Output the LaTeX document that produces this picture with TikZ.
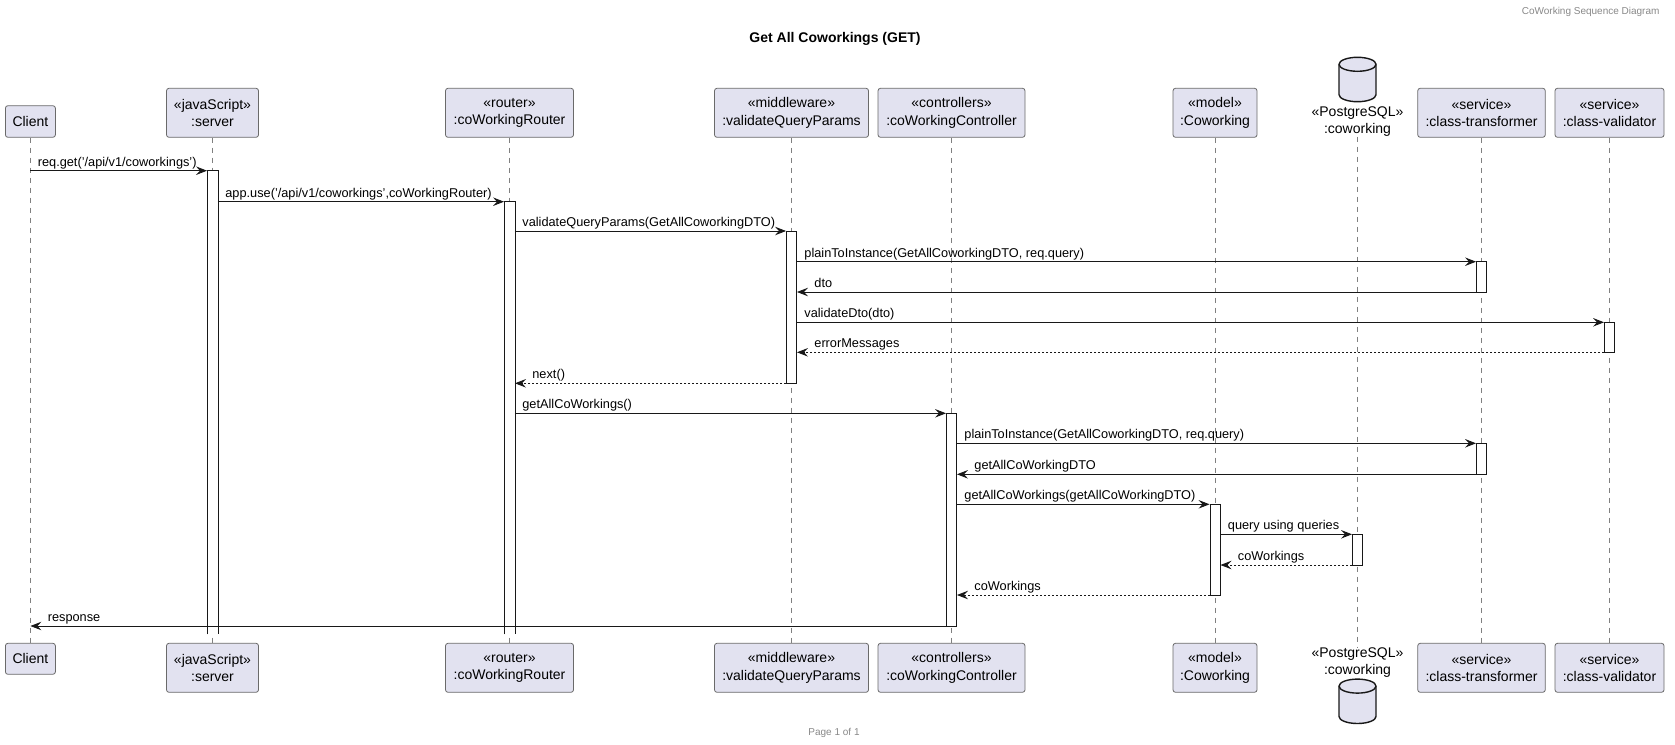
\documentclass[tikz,border=0pt]{standalone}
\usepackage{fontspec}
\setmainfont{Liberation Sans}
\usetikzlibrary{arrows.meta}

\definecolor{partfill}{HTML}{E2E2F0}
\definecolor{ink}{HTML}{181818}
\definecolor{partline}{HTML}{6A6A6A}
\definecolor{faint}{HTML}{888888}

\tikzset{
  part/.style={draw=partline, fill=partfill, rounded corners=2.5pt, line width=0.8pt,
    align=center, inner sep=0pt, font=\fontsize{14}{17.5}\selectfont},
  pgtext/.style={align=center, inner sep=0pt, font=\fontsize{14}{17}\selectfont},
  lifeline/.style={draw=ink!55, line width=0.7pt, dash pattern=on 5pt off 5pt},
  act/.style={draw=ink, fill=white, line width=0.9pt, minimum width=10pt, inner sep=0pt},
  openact/.style={act, draw=none},
  db/.style={draw=ink, fill=partfill, line width=1.4pt},
  msg/.style={draw=ink, line width=0.9pt, -{Stealth[length=11pt,width=8.5pt,inset=4pt]}},
  ret/.style={msg, dash pattern=on 2pt off 2pt},
  lbl/.style={font=\fontsize{12.75}{15}\selectfont, inner sep=0pt, anchor=base west, yshift=4.5pt},
  lblR/.style={lbl, pos=0, xshift=7pt},
  lblL/.style={lbl, pos=1, xshift=17pt},
  pics/dbicon/.style={code={
    \draw[db] (-18.5,-15.2) -- (-18.5,15.2)
      arc[start angle=180,end angle=360,x radius=18.5pt,y radius=7pt]
      -- (18.5,-15.2)
      arc[start angle=0,end angle=180,x radius=18.5pt,y radius=7pt] -- cycle;
    \draw[db, fill=none] (-18.5,-15.2)
      arc[start angle=180,end angle=360,x radius=18.5pt,y radius=7pt];
  }}
}

\begin{document}
\begin{tikzpicture}[x=1pt,y=-1pt]
\useasboundingbox (0,0) rectangle (1675,744);

% header, title and footer
\node[anchor=east, text=faint, font=\fontsize{10}{12}\selectfont] (header) at (1663,12.3) {CoWorking Sequence Diagram};
\node[font=\bfseries\fontsize{14}{16}\selectfont] (title) at (835,39.3) {Get All Coworkings (GET)};
\node[text=faint, font=\fontsize{10}{12}\selectfont] (footer) at (834,732.7) {Page 1 of 1};

% participants (top row)
\node[part, minimum width=50pt,    minimum height=31.6pt] (pClient) at (30.4,121.5)  {Client};
\node[part, minimum width=92pt,    minimum height=49pt]   (pServer) at (212.5,112.8) {«javaScript»\\:server};
\node[part, minimum width=128pt,   minimum height=49pt]   (pRouter) at (509.5,112.8) {«router»\\:coWorkingRouter};
\node[part, minimum width=154pt,   minimum height=49pt]   (pMid)    at (791.5,112.8) {«middleware»\\:validateQueryParams};
\node[part, minimum width=147pt,   minimum height=49pt]   (pCtrl)   at (951.5,112.8) {«controllers»\\:coWorkingController};
\node[part, minimum width=84pt,    minimum height=49pt]   (pModel)  at (1215,112.8)  {«model»\\:Coworking};
\node[pgtext] (pPg) at (1357.5,121.5) {«PostgreSQL»\\:coworking};
\pic (pDbIcon) at (1357.5,79.5) {dbicon};
\node[part, minimum width=127.5pt, minimum height=49pt]   (pTr)     at (1481.5,112.8) {«service»\\:class-transformer};
\node[part, minimum width=109pt,   minimum height=49pt]   (pVal)    at (1609.5,112.8) {«service»\\:class-validator};

% participants (bottom row)
\node[part, minimum width=50pt,    minimum height=31pt] (qClient) at (30.4,658.8)  {Client};
\node[part, minimum width=92pt,    minimum height=49pt] (qServer) at (212.5,667.8) {«javaScript»\\:server};
\node[part, minimum width=128pt,   minimum height=49pt] (qRouter) at (509.5,667.8) {«router»\\:coWorkingRouter};
\node[part, minimum width=154pt,   minimum height=49pt] (qMid)    at (791.5,667.8) {«middleware»\\:validateQueryParams};
\node[part, minimum width=147pt,   minimum height=49pt] (qCtrl)   at (951.5,667.8) {«controllers»\\:coWorkingController};
\node[part, minimum width=84pt,    minimum height=49pt] (qModel)  at (1215,667.8)  {«model»\\:Coworking};
\node[pgtext] (qPg) at (1357.5,662.2) {«PostgreSQL»\\:coworking};
\pic (qDbIcon) at (1357.5,701.3) {dbicon};
\node[part, minimum width=127.5pt, minimum height=49pt] (qTr)     at (1481.5,667.8) {«service»\\:class-transformer};
\node[part, minimum width=109pt,   minimum height=49pt] (qVal)    at (1609.5,667.8) {«service»\\:class-validator};

% lifelines
\foreach \n in {Client,Server,Router,Mid,Ctrl,Model,Pg,Tr,Val}
  \draw[lifeline] (p\n) -- (q\n);

% message rows
\coordinate (r1)  at (0,170.7);
\coordinate (r2)  at (0,201.7);
\coordinate (r3)  at (0,231);
\coordinate (r4)  at (0,261.7);
\coordinate (r5)  at (0,292);
\coordinate (r6)  at (0,322.3);
\coordinate (r7)  at (0,352.3);
\coordinate (r8)  at (0,383.3);
\coordinate (r9)  at (0,413.3);
\coordinate (r10) at (0,443.3);
\coordinate (r11) at (0,474.3);
\coordinate (r12) at (0,504.3);
\coordinate (r13) at (0,534.3);
\coordinate (r14) at (0,565);
\coordinate (r15) at (0,595);
\coordinate (r16) at (0,626);

% activation bars; the server and router bars stay open at the bottom
\node[openact, minimum height=463.3pt] (aServer) at (212.5,402.35) {};
\node[openact, minimum height=432.3pt] (aRouter) at (509.5,417.85) {};
\foreach \a in {aServer,aRouter}
  \draw[draw=ink, line width=0.9pt] (\a.south west) -- (\a.north west) -- (\a.north east) -- (\a.south east);
\node[act, minimum height=152.5pt] (aMid)    at (791.5,307.25) {};
\node[act, minimum height=30.3pt]  (aTr1)    at (1481.5,276.85) {};
\node[act, minimum height=30pt]    (aVal)    at (1609.5,337.3) {};
\node[act, minimum height=212.7pt] (aCtrl)   at (951.5,519.65) {};
\node[act, minimum height=31pt]    (aTr2)    at (1481.5,458.8) {};
\node[act, minimum height=90.7pt]  (aModel)  at (1215,549.65) {};
\node[act, minimum height=30.7pt]  (aPg)     at (1357.5,549.65) {};

% messages
\draw[msg] (pClient |- r1) -- (aServer.west |- r1) node[lblR] {req.get('/api/v1/coworkings')};
\draw[msg] (aServer.east |- r2) -- (aRouter.west |- r2) node[lblR] {app.use('/api/v1/coworkings',coWorkingRouter)};
\draw[msg] (aRouter.east |- r3) -- (aMid.west |- r3) node[lblR] {validateQueryParams(GetAllCoworkingDTO)};
\draw[msg] (aMid.east |- r4) -- (aTr1.west |- r4) node[lblR] {plainToInstance(GetAllCoworkingDTO, req.query)};
\draw[msg] (aTr1.west |- r5) -- (aMid.east |- r5) node[lblL] {dto};
\draw[msg] (aMid.east |- r6) -- (aVal.west |- r6) node[lblR] {validateDto(dto)};
\draw[ret] (aVal.west |- r7) -- (aMid.east |- r7) node[lblL] {errorMessages};
\draw[ret] (aMid.west |- r8) -- (aRouter.east |- r8) node[lblL] {next()};
\draw[msg] (aRouter.east |- r9) -- (aCtrl.west |- r9) node[lblR] {getAllCoWorkings()};
\draw[msg] (aCtrl.east |- r10) -- (aTr2.west |- r10) node[lblR] {plainToInstance(GetAllCoworkingDTO, req.query)};
\draw[msg] (aTr2.west |- r11) -- (aCtrl.east |- r11) node[lblL] {getAllCoWorkingDTO};
\draw[msg] (aCtrl.east |- r12) -- (aModel.west |- r12) node[lblR] {getAllCoWorkings(getAllCoWorkingDTO)};
\draw[msg] (aModel.east |- r13) -- (aPg.west |- r13) node[lblR] {query using queries};
\draw[ret] (aPg.west |- r14) -- (aModel.east |- r14) node[lblL] {coWorkings};
\draw[ret] (aModel.west |- r15) -- (aCtrl.east |- r15) node[lblL] {coWorkings};
\draw[msg] (aCtrl.west |- r16) -- (pClient |- r16) node[lblL] {response};

\end{tikzpicture}
\end{document}
